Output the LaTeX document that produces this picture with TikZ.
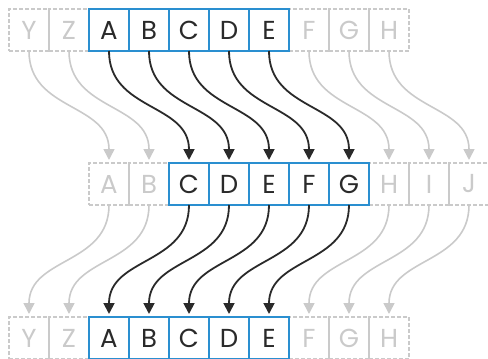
\documentclass[tikz,border=0pt]{standalone}
\usepackage{fontspec}
\setmainfont{Poppins}
\usetikzlibrary{arrows.meta}
\definecolor{cblue}{HTML}{2A8FD0}
\definecolor{cgray}{HTML}{CACACA}
\definecolor{ctext}{HTML}{2A2A2A}
\tikzset{
 cell/.style={minimum width=40pt, minimum height=42pt, inner sep=0pt, outer sep=0pt, font=\fontsize{26}{26}\selectfont},
 ghost/.style={cell, draw=cgray, dash pattern=on 4pt off 2pt, line width=1.5pt, text=cgray},
 live/.style={cell, draw=cblue, line width=2pt, text=ctext},
 darr/.style={draw=ctext, line width=1.8pt, -{Triangle[width=11pt,length=11pt]}, shorten >=3pt},
 garr/.style={draw=cgray, line width=1.6pt, -{Triangle[width=11pt,length=11pt]}, shorten >=3pt},
}
\begin{document}
\begin{tikzpicture}[x=1pt,y=-1pt]
\useasboundingbox (0,0) rectangle (488,359);
% top row
\foreach \l/\i in {Y/0,Z/1,F/7,G/8,H/9} \node[ghost] (t\l) at ({29+40*\i},30) {\l};
\foreach \l/\i in {A/2,B/3,C/4,D/5,E/6} \node[live] (t\l) at ({29+40*\i},30) {\l};
% middle row
\foreach \l/\i in {A/0,B/1,H/7,I/8,J/9} \node[ghost] (m\l) at ({109+40*\i},184) {\l};
\foreach \l/\i in {C/2,D/3,E/4,F/5,G/6} \node[live] (m\l) at ({109+40*\i},184) {\l};
% bottom row
\foreach \l/\i in {Y/0,Z/1,F/7,G/8,H/9} \node[ghost] (b\l) at ({29+40*\i},338) {\l};
\foreach \l/\i in {A/2,B/3,C/4,D/5,E/6} \node[live] (b\l) at ({29+40*\i},338) {\l};
% arrows top -> middle
\foreach \s/\e in {Y/A,Z/B,F/H,G/I,H/J}
  \draw[garr] (t\s.south) .. controls +(0,60) and +(0,-60) .. (m\e.north);
\foreach \s/\e in {A/C,B/D,C/E,D/F,E/G}
  \draw[darr] (t\s.south) .. controls +(0,60) and +(0,-60) .. (m\e.north);
% arrows middle -> bottom
\foreach \s/\e in {A/Y,B/Z,H/F,I/G,J/H}
  \draw[garr] (m\s.south) .. controls +(0,60) and +(0,-60) .. (b\e.north);
\foreach \s/\e in {C/A,D/B,E/C,F/D,G/E}
  \draw[darr] (m\s.south) .. controls +(0,60) and +(0,-60) .. (b\e.north);
\end{tikzpicture}
\end{document}
